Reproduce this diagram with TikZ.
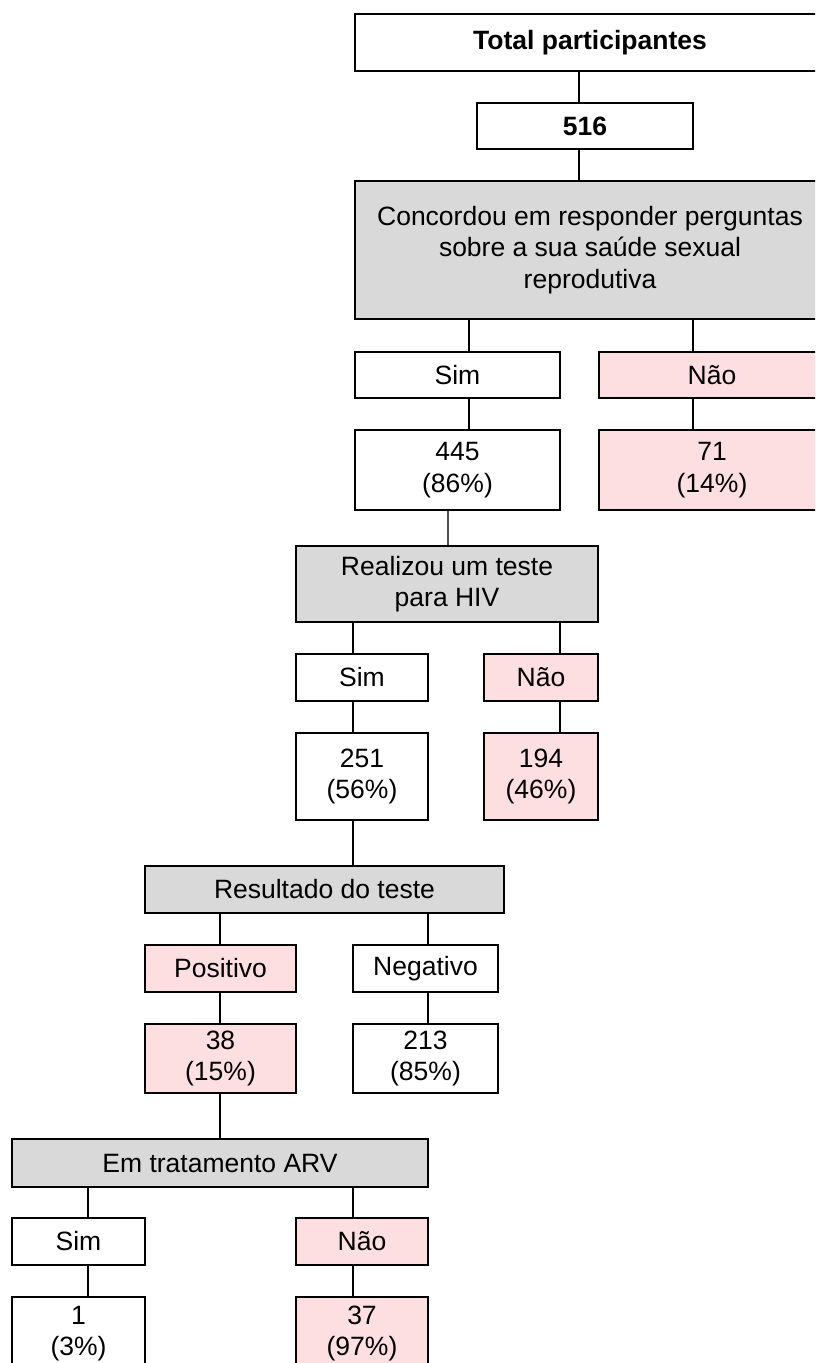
\documentclass[tikz,border=0pt]{standalone}
\usepackage{fontspec}
\setmainfont{Liberation Sans}
\definecolor{boxgray}{HTML}{D9D9D9}
\definecolor{boxpink}{HTML}{FDDEE1}
\definecolor{thinline}{HTML}{505050}
\tikzset{
  bx/.style={draw=black, line width=1.8pt, fill=white, inner sep=0pt, align=center,
    font=\fontsize{26.5}{31.5}\selectfont},
  gbx/.style={bx, fill=boxgray},
  pbx/.style={bx, fill=boxpink},
  conn/.style={draw=black, line width=1.8pt},
  thinconn/.style={draw=thinline, line width=1.2pt}
}
\begin{document}
\begin{tikzpicture}[x=1pt,y=-1pt]
\useasboundingbox (0,0) rectangle (815,1363);
\clip (0,0) rectangle (815,1363);
\fill[white] (0,0) rectangle (815,1363);

\node[bx, minimum width=470, minimum height=57] (tot) at (590,42.5) {\bfseries Total participantes};
\node[bx, minimum width=216, minimum height=46] (n516) at (585,126) {\bfseries 516};
\node[gbx, minimum width=470, minimum height=138] (g1) at (590,250) {Concordou em responder perguntas\\sobre a sua saúde sexual\\reprodutiva};
\node[bx, minimum width=205, minimum height=46] (s1) at (457.5,375) {Sim};
\node[pbx, minimum width=226, minimum height=46] (n1) at (712,375) {Não};
\node[bx, minimum width=205, minimum height=80] (v445) at (457.5,470) {445\\(86\%)};
\node[pbx, minimum width=226, minimum height=80] (v71) at (712,470) {71\\(14\%)};

\node[gbx, minimum width=302, minimum height=76] (g2) at (447,584) {Realizou um teste\\para HIV};
\node[bx, minimum width=132, minimum height=47] (s2) at (362,677.5) {Sim};
\node[pbx, minimum width=114, minimum height=47] (n2) at (541,677.5) {Não};
\node[bx, minimum width=132, minimum height=87] (v251) at (362,776.5) {251\\(56\%)};
\node[pbx, minimum width=114, minimum height=87] (v194) at (541,776.5) {194\\(46\%)};

\node[gbx, minimum width=359, minimum height=47] (g3) at (324.5,889.5) {Resultado do teste};
\node[pbx, minimum width=151, minimum height=47] (pos) at (220.5,968.5) {Positivo};
\node[bx, minimum width=145, minimum height=47] (neg) at (425.5,968.5) {Negativo};
\node[pbx, minimum width=151, minimum height=69] (v38) at (220.5,1058.5) {38\\(15\%)};
\node[bx, minimum width=145, minimum height=69] (v213) at (425.5,1058.5) {213\\(85\%)};

\node[gbx, minimum width=416, minimum height=48] (g4) at (220,1163) {Em tratamento ARV};
\node[bx, minimum width=133, minimum height=47] (s3) at (78.5,1241.5) {Sim};
\node[pbx, minimum width=132, minimum height=47] (n3) at (362,1241.5) {Não};
\node[bx, minimum width=133, minimum height=73] (v1) at (78.5,1333.5) {1\\(3\%)};
\node[pbx, minimum width=132, minimum height=73] (v37) at (362,1333.5) {37\\(97\%)};

\draw[conn] ([xshift=-11]tot.south) -- ([xshift=-6]n516.north);
\draw[conn] ([xshift=-6]n516.south) -- ([xshift=-11]g1.north);
\draw[conn] ([xshift=-121]g1.south) -- ([xshift=11.5]s1.north);
\draw[conn] ([xshift=103]g1.south) -- ([xshift=-19]n1.north);
\draw[conn] ([xshift=11.5]s1.south) -- ([xshift=11.5]v445.north);
\draw[conn] ([xshift=-19]n1.south) -- ([xshift=-19]v71.north);
\draw[thinconn] ([xshift=-9.5]v445.south) -- ([xshift=1]g2.north);
\draw[conn] ([xshift=-94]g2.south) -- ([xshift=-9]s2.north);
\draw[conn] ([xshift=113]g2.south) -- ([xshift=19]n2.north);
\draw[conn] ([xshift=-9]s2.south) -- ([xshift=-9]v251.north);
\draw[conn] ([xshift=19]n2.south) -- ([xshift=19]v194.north);
\draw[conn] ([xshift=-9]v251.south) -- ([xshift=28.5]g3.north);
\draw[conn] ([xshift=-104.5]g3.south) -- ([xshift=-0.5]pos.north);
\draw[conn] ([xshift=103.5]g3.south) -- ([xshift=2.5]neg.north);
\draw[conn] ([xshift=-0.5]pos.south) -- ([xshift=-0.5]v38.north);
\draw[conn] ([xshift=2.5]neg.south) -- ([xshift=2.5]v213.north);
\draw[conn] ([xshift=-0.5]v38.south) -- (g4.north);
\draw[conn] ([xshift=-132]g4.south) -- ([xshift=9.5]s3.north);
\draw[conn] ([xshift=133]g4.south) -- ([xshift=-9]n3.north);
\draw[conn] ([xshift=9.5]s3.south) -- ([xshift=9.5]v1.north);
\draw[conn] ([xshift=-9]n3.south) -- ([xshift=-9]v37.north);
\end{tikzpicture}
\end{document}
